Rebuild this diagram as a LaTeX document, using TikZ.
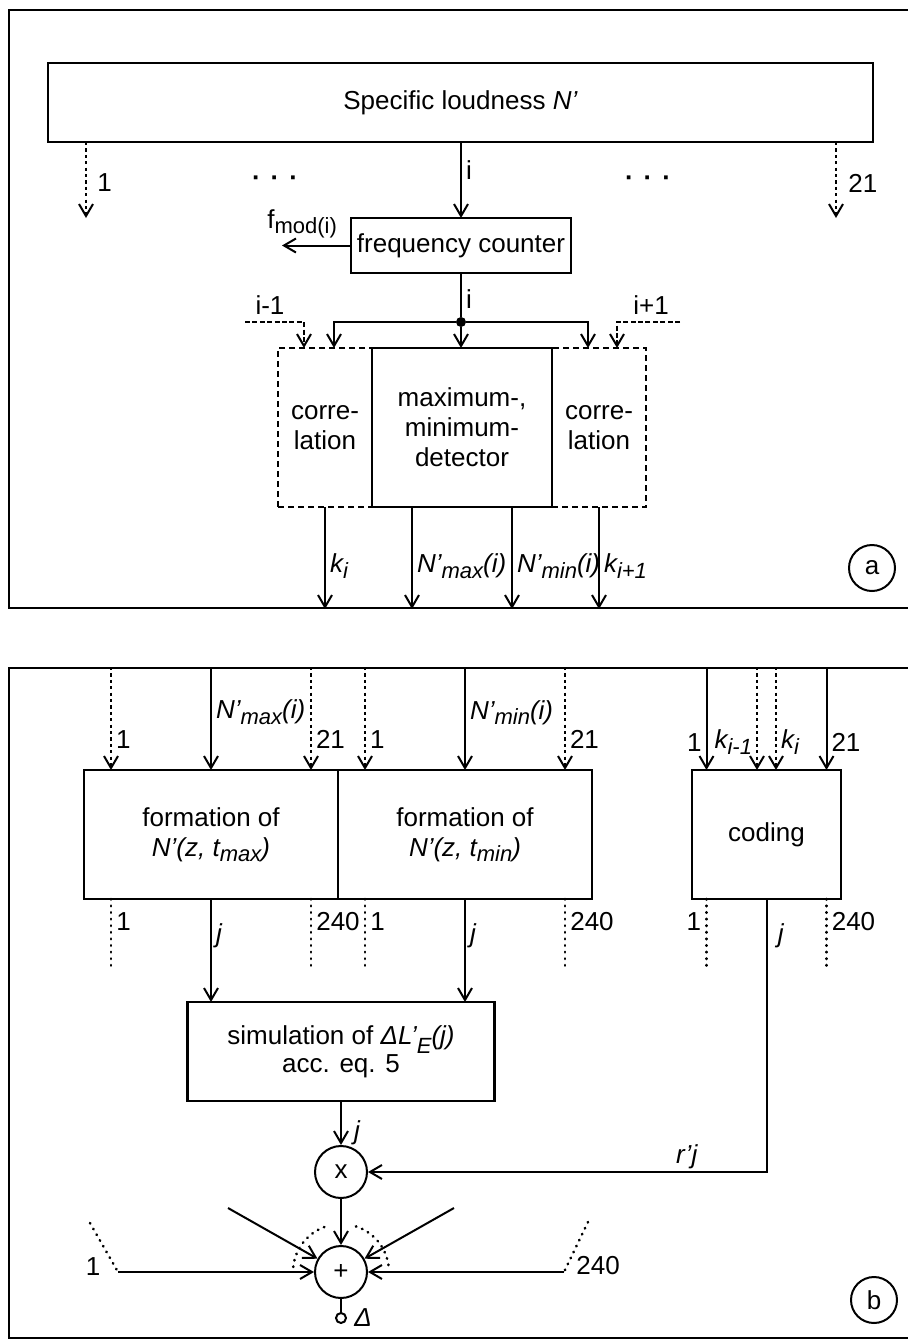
\documentclass[tikz,border=0pt]{standalone}
\usepackage{fontspec}
\setmainfont{Liberation Sans}
\usetikzlibrary{arrows.meta,positioning}

\newcommand{\lowsub}[1]{\raisebox{-0.4ex}{\fontsize{11}{12}\selectfont #1}}
\newcommand{\fsz}{\fontsize{13}{15}\selectfont}

\begin{document}
\begin{tikzpicture}[
  x=0.5pt, y=-0.5pt,
  font=\fsz,
  panel/.style={rectangle, draw, line width=1pt, minimum width=451.5pt, inner sep=0pt},
  blk/.style={rectangle, draw, line width=1.2pt, align=center, inner sep=0pt, outer sep=0pt},
  dblk/.style={blk, densely dashed},
  sumnode/.style={circle, draw, line width=1pt, minimum size=26pt, inner sep=0pt},
  tag/.style={circle, draw, line width=1pt, minimum size=23pt, inner sep=0pt},
  arr/.style={-{Straight Barb[length=6pt,width=7pt]}, line width=1pt},
  dotarr/.style={arr, dash pattern=on 1.6pt off 1.6pt},
  dashln/.style={dash pattern=on 2.5pt off 1.2pt},
  dotln/.style={line width=1.3pt, line cap=round, dash pattern=on 0.3pt off 3pt},
  lbl/.style={inner sep=2pt}
]
  \useasboundingbox (0,0) rectangle (907,1339);

  % panel (a)
  \node[panel, minimum height=299pt] (panA) at (460.5,309) {};
  \node[blk, minimum width=412.5pt, minimum height=39.5pt] (loud) at (460.5,102.5) {Specific loudness \textit{N'}};
  \coordinate (o1) at (86,218);
  \coordinate (o21) at (836,218);
  \draw[dotarr] (loud.south -| o1) -- (o1);
  \draw[dotarr] (loud.south -| o21) -- (o21);
  \node[lbl, anchor=west] (lo1) at (93,183) {1};
  \node[lbl, anchor=west] (lo21) at (844,183) {21};
  \node (dotsL) at (275,181) {\bfseries ·\hspace{5pt}·\hspace{5pt}·};
  \node (dotsR) at (648,181) {\bfseries ·\hspace{5pt}·\hspace{5pt}·};

  \node[blk, minimum width=110pt, minimum height=27.5pt] (fc) at (461,245.5) {frequency counter};
  \draw[arr] (loud.south -| fc.north) -- node[lbl, anchor=west, pos=0.37] (li1) {i} (fc.north);
  \coordinate (fm) at (282,245.5);
  \draw[arr] (fc.west) -- (fm);
  \node[lbl, anchor=base west] (lfm) at (263,228) {f\lowsub{mod(i)}};

  \node[circle, fill, inner sep=0pt, minimum size=5pt] (jn) at (461,322) {};
  \draw[line width=1pt] (fc.south) -- node[lbl, anchor=west, pos=0.6] (li2) {i} (jn);

  % correlation and detector
  \node[blk, minimum width=90pt, minimum height=79.5pt] (mmd) at (462,427.5) {maximum-,\\minimum-\\detector};
  \node[dblk, minimum width=47pt, minimum height=79.5pt, left=0pt of mmd] (corrL) {corre-\\lation};
  \node[dblk, minimum width=47pt, minimum height=79.5pt, right=0pt of mmd] (corrR) {corre-\\lation};
  \node[blk, minimum width=90pt, minimum height=79.5pt] (mmdf) at (mmd) {};

  \draw[arr] (jn) -- (jn |- mmd.north);
  \draw[arr] (jn) -| ([xshift=4.5pt]corrL.north);
  \draw[arr] (jn) -| ([xshift=-5.5pt]corrR.north);
  \coordinate (pL) at (245,322);
  \coordinate (pR) at (680,322);
  \draw[arr, dashln] (pL) -| ([xshift=-10.5pt]corrL.north);
  \draw[arr, dashln] (pR) -| ([xshift=9pt]corrR.north);
  \node[lbl] (lim) at (270,305) {i-1};
  \node[lbl] (lip) at (651,305) {i+1};

  \draw[arr] (corrL.south) -- node[lbl, anchor=west, pos=0.58] (lk1) {\textit{k\lowsub{i}}} (corrL.south |- panA.south);
  \draw[arr] ([xshift=-25pt]mmd.south) -- node[lbl, anchor=west, pos=0.58] (lmax) {\textit{N'\lowsub{max}(i)}} ([xshift=-25pt]mmd.south |- panA.south);
  \draw[arr] ([xshift=25pt]mmd.south) -- node[lbl, anchor=west, pos=0.58] (lmin) {\textit{N'\lowsub{min}(i)}} ([xshift=25pt]mmd.south |- panA.south);
  \draw[arr] (corrR.south) -- node[lbl, anchor=west, pos=0.58] (lk2) {\textit{k\lowsub{i+1}}} (corrR.south |- panA.south);
  \node[tag] (tagA) at (872,568) {a};

  % panel (b)
  \node[panel, minimum height=335pt] (panB) at (460.5,1003) {};
  \node[blk, minimum width=127pt, minimum height=64.5pt] (fmax) at (211,834.5) {formation of\\\textit{N'(z, t\lowsub{max})}};
  \node[blk, minimum width=127pt, minimum height=64.5pt, right=0pt of fmax] (fmin) {formation of\\\textit{N'(z, t\lowsub{min})}};
  \node[blk, minimum width=74.5pt, minimum height=64.5pt] (code) at (766.5,834.5) {coding};
  \node[blk, minimum width=153.5pt, minimum height=49.5pt] (sim) at (341,1051.5) {simulation of \textit{ΔL'\raisebox{-0.7ex}{\fontsize{11}{12}\selectfont E}(j)}\\[-1pt]acc. eq. 5};

  \foreach \b/\t in {fmax/max, fmin/min} {
    \draw[dotarr] ([xshift=-50pt]\b.north |- panB.north) -- node[lbl, anchor=west, pos=0.7] (\b-i1) {1} ([xshift=-50pt]\b.north);
    \draw[arr] (\b.north |- panB.north) -- node[lbl, anchor=west, pos=0.44] (\b-in) {\textit{N'\lowsub{\t}(i)}} (\b.north);
    \draw[dotarr] ([xshift=50pt]\b.north |- panB.north) -- node[lbl, anchor=west, pos=0.7] (\b-i21) {21} ([xshift=50pt]\b.north);
    \draw[dotln] ([xshift=-50pt]\b.south) -- node[lbl, anchor=west, pos=0.33] (\b-o1) {1} ++(0,69);
    \draw[arr] (\b.south) -- node[lbl, anchor=west, pos=0.36] (\b-oj) {\textit{j}} (\b.south |- sim.north);
    \draw[dotln] ([xshift=50pt]\b.south) -- node[lbl, anchor=west, pos=0.33] (\b-o240) {240} ++(0,69);
  }

  \draw[arr] ([xshift=-30pt]code.north |- panB.north) -- node[lbl, anchor=east, pos=0.73] (c-i1) {1} ([xshift=-30pt]code.north);
  \draw[dotarr] ([xshift=-4.75pt]code.north |- panB.north) -- node[lbl, anchor=east, pos=0.73] (c-ik1) {\textit{k\lowsub{i-1}}} ([xshift=-4.75pt]code.north);
  \draw[dotarr] ([xshift=4.75pt]code.north |- panB.north) -- node[lbl, anchor=west, pos=0.73] (c-ik2) {\textit{k\lowsub{i}}} ([xshift=4.75pt]code.north);
  \draw[arr] ([xshift=30pt]code.north |- panB.north) -- node[lbl, anchor=west, pos=0.73] (c-i21) {21} ([xshift=30pt]code.north);
  \draw[dotln] ([xshift=-30pt]code.south) -- node[lbl, anchor=east, pos=0.33] (c-o1) {1} ++(0,69);
  \draw[dotln] ([xshift=30pt]code.south) -- node[lbl, anchor=west, pos=0.33] (c-o240) {240} ++(0,69);

  % multiplier and sum
  \node[sumnode] (mul) at (341,1172) {x};
  \draw[arr] (sim.south) -- node[lbl, anchor=west, pos=0.72, xshift=4pt] (lj) {\textit{j}} (mul.north);
  \draw[arr] (code.south) |- (mul.east);
  \node[lbl] (cj) at (781,936) {\textit{j}};
  \node[lbl] (lr) at (687,1157) {\textit{r'j}};

  \node[sumnode] (sum) at (341,1272) {+};
  \draw[arr] (mul.south) -- (sum.north);
  \coordinate (dUL) at (228,1208);
  \coordinate (dUR) at (454,1208);
  \draw[arr] (dUL) -- (sum);
  \draw[arr] (dUR) -- (sum);
  \coordinate (hL) at (118,1272);
  \coordinate (hR) at (564,1272);
  \coordinate (tL) at (90,1223);
  \coordinate (tR) at (588,1222);
  \draw[arr] (hL) -- (sum.west);
  \draw[arr] (hR) -- (sum.east);
  \draw[dotln] (tL) -- (hL);
  \draw[dotln] (tR) -- (hR);
  \node[lbl] (ls1) at (93,1267) {1};
  \node[lbl, anchor=west] (ls240) at (572,1266) {240};
  \draw[dotln] (sum.center) ++(-174:48) arc[start angle=-174, end angle=-108, radius=48];
  \draw[dotln] (sum.center) ++(-72:48) arc[start angle=-72, end angle=-6, radius=48];

  \node[circle, draw, line width=1pt, minimum size=5pt, inner sep=0pt] (out) at (341,1318) {};
  \draw[line width=1pt] (sum.south) -- (out.north);
  \node[lbl, anchor=west] (ld) at (350,1318) {\textit{Δ}};
  \node[tag] (tagB) at (874,1300) {b};
\end{tikzpicture}
\end{document}
